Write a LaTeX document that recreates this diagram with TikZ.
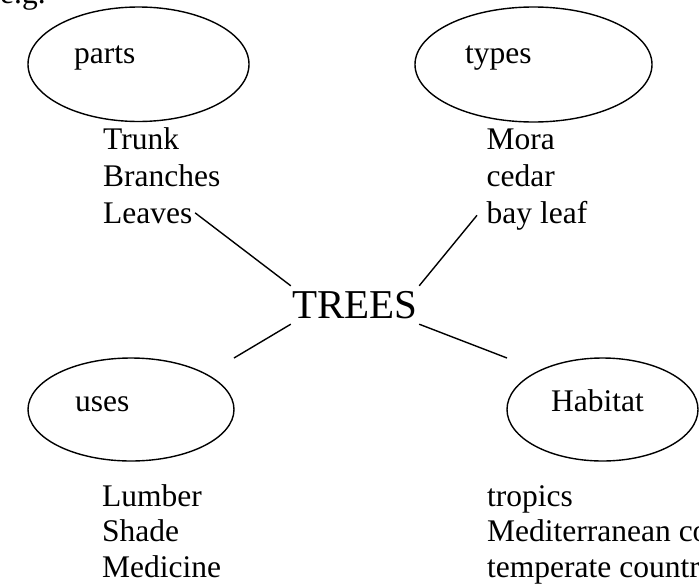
\documentclass[tikz,border=0pt]{standalone}
\usepackage{fontspec}
\setmainfont{Liberation Serif}
\usetikzlibrary{shapes.geometric}
\begin{document}
\begin{tikzpicture}
[x=1pt,y=-1pt,
  ovaldecorate/.style={shape=ellipse,draw,line width=1.4pt,inner sep=0pt,outer sep=0pt},%
  worddecorate/.style={anchor=base west,inner xsep=2.5pt,inner ysep=0pt,font=\fontsize{31.5}{36}\selectfont},%
  titledecorate/.style={minimum width=128,minimum height=38,inner sep=0pt,font=\fontsize{41}{48}\selectfont},%
  linedecorate/.style={-,line width=1.4pt}]
\useasboundingbox (0,0) rectangle (699,584);
\clip (0,0) rectangle (699,584);
%% ovals
\foreach \nodename/\x/\y/\w/\h in {
  partsoval/138.5/64.25/221/114.5, typesoval/533.5/64.5/237/115,
  usesoval/131/409.5/206/103, habitatoval/602.5/409.5/191/103}
{
  \node (\nodename) at (\x,\y) [ovaldecorate,minimum width=\w,minimum height=\h] {};
}
%% words
\foreach \nodename/\x/\y/\txt in {
  eg/-2.5/3/e.g.,
  parts/71.5/63/parts, types/462.5/63/types,
  uses/72.5/411/uses, habitat/548.5/411/Habitat,
  trunk/100.5/149/Trunk, branches/100.5/186/Branches, leaves/100.5/223/Leaves,
  mora/484/149/Mora, cedar/484/186/cedar, bayleaf/484/223/bay leaf,
  lumber/99.5/506/Lumber, shade/99.5/541/Shade, medicine/99.5/577/Medicine,
  tropics/484.5/506/tropics, mediterranean/484.5/541/Mediterranean countries,
  temperate/484.5/577/temperate countries}
{
  \node (\nodename) at (\x,\y) [worddecorate] {\txt};
}
\node (trees) at (355,305) [titledecorate] {TREES};
%% free ends of the lines
\coordinate (bayleafend) at ([xshift=-7]bayleaf.west);
\coordinate (usescorner) at (usesoval.north -| usesoval.east);
\coordinate (habitatcorner) at (habitatoval.north -| habitatoval.west);
%% lines
\path
\foreach \startnode/\endnode in {leaves.east/trees.north west,
  trees.north east/bayleafend, trees.south west/usescorner,
  trees.south east/habitatcorner} {
  (\startnode) edge[linedecorate] (\endnode)
};
\end{tikzpicture}
\end{document}
